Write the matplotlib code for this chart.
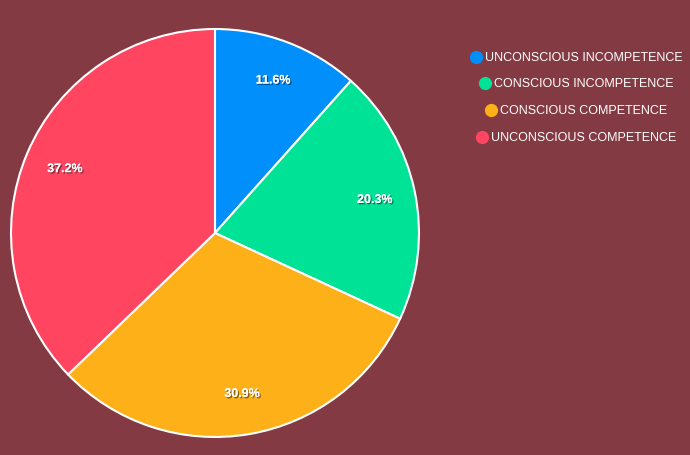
import matplotlib
matplotlib.use("Agg")
import matplotlib.pyplot as plt
import matplotlib.patheffects as pe

categories = ["UNCONSCIOUS INCOMPETENCE", "CONSCIOUS INCOMPETENCE",
              "CONSCIOUS COMPETENCE", "UNCONSCIOUS COMPETENCE"]
values = [11.6, 20.3, 30.9, 37.2]
colors = ["#008FFB", "#00E396", "#FEB019", "#FF4560"]
bg = "#843A42"

fig = plt.figure(figsize=(6.9, 4.56), dpi=100, facecolor=bg)
ax = fig.add_axes([10/690, 17/456, 410/690, 410/456])
ax.set_facecolor(bg)
wedges, texts, autotexts = ax.pie(
    values, colors=colors, startangle=90, counterclock=False,
    autopct=lambda p: f"{p:.1f}%", pctdistance=0.8,
    wedgeprops=dict(edgecolor="white", linewidth=1.5),
    textprops=dict(color="white", fontsize=9, fontweight="bold", family="Liberation Sans"))
for t in autotexts:
    t.set_path_effects([pe.withSimplePatchShadow(offset=(1, -1), shadow_rgbFace="black", alpha=0.45), pe.Normal()])
ax.set_xlim(-1.005, 1.005)
ax.set_ylim(-1.005, 1.005)
ax.set_aspect("equal")
ax.axis("off")

# legend
lx_center = 577
ys = [58, 84, 111, 138]
fig.canvas.draw()
r = fig.canvas.get_renderer()
for cat, col, y in zip(categories, colors, ys):
    t = fig.text(0, 0, cat, color="white", fontsize=9, family="Liberation Sans", va="center", ha="left")
    w = t.get_window_extent(renderer=r).width
    total = w + 14
    x0 = lx_center - total / 2
    t.set_position(((x0 + 14) / 690, 1 - y / 456))
    fig.lines.append(plt.Line2D([(x0 + 5) / 690], [1 - y / 456], marker="o", markersize=8.5,
                                color=col, transform=fig.transFigure, linestyle="none"))

fig.savefig("out.png", dpi=100, facecolor=bg)
